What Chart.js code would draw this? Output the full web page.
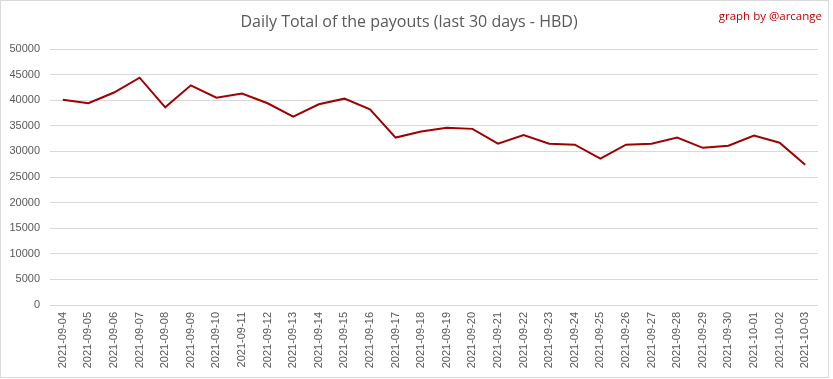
<!DOCTYPE html>
<html>
<head>
<meta charset="utf-8">
<script src="https://cdn.jsdelivr.net/npm/chart.js@4"></script>
<style>
  body { margin: 0; background: #fff; }
  #wrap { position: relative; width: 833px; height: 379px; }
  #frame { position: absolute; left: 0; top: 0; width: 829px; height: 378px; box-sizing: border-box; border: 1px solid #d9d9d9; pointer-events: none; }
  #credit { position: absolute; right: 11px; top: 8px; font: 11.5px "Open Sans", sans-serif; color: #c00000; }
</style>
</head>
<body>
<div id="wrap">
  <canvas id="LineChart" width="833" height="379"></canvas>
  <div id="frame"></div>
  <div id="credit">graph by @arcange</div>
</div>
<script>
var days = ['2021-09-04','2021-09-05','2021-09-06','2021-09-07','2021-09-08','2021-09-09','2021-09-10',
    '2021-09-11','2021-09-12','2021-09-13','2021-09-14','2021-09-15','2021-09-16','2021-09-17',
    '2021-09-18','2021-09-19','2021-09-20','2021-09-21','2021-09-22','2021-09-23','2021-09-24',
    '2021-09-25','2021-09-26','2021-09-27','2021-09-28','2021-09-29','2021-09-30','2021-10-01',
    '2021-10-02','2021-10-03'];

var payouts = [40100, 39400, 41500, 44400, 38600, 42900, 40500,
    41300, 39400, 36800, 39200, 40300, 38200, 32700,
    33900, 34600, 34400, 31500, 33200, 31500, 31300,
    28600, 31300, 31500, 32700, 30700, 31100, 33100,
    31700, 27400];

var yMin = 0;
var yMax = 50000;
var yStep = 5000;

var textColor = '#595959';

var data = {
    labels: days,
    datasets: [{
        label: 'HBD',
        borderColor: '#a00000',
        backgroundColor: '#a00000',
        borderWidth: 2,
        pointRadius: 0,
        tension: 0,
        data: payouts,
    }]
};

var config = {
    type: 'line',
    data,
    options: {
        responsive: false,
        animation: false,
        layout: { padding: { left: 0, right: 15, top: 0, bottom: 0 } },
        plugins: {
            legend: { display: false },
            tooltip: { enabled: false },
            title: {
                display: true,
                text: 'Daily Total of the payouts (last 30 days - HBD)',
                color: textColor,
                font: { family: 'Open Sans', size: 16, weight: 'normal', lineHeight: 1.2 },
                padding: { top: 13, bottom: 16.8 },
            },
        },
        scales: {
            x: {
                offset: true,
                grid: { display: false, drawTicks: false },
                border: { display: false },
                ticks: {
                    color: textColor,
                    font: { family: 'Liberation Sans', size: 11 },
                    minRotation: 90,
                    maxRotation: 90,
                    autoSkip: false,
                    padding: 7,
                },
                afterFit: function (scale) { scale.height = 74; },
            },
            y: {
                min: yMin,
                max: yMax,
                grid: { color: '#d9d9d9', drawTicks: false, lineWidth: 1 },
                border: { display: false },
                ticks: {
                    stepSize: yStep,
                    color: textColor,
                    font: { family: 'Liberation Sans', size: 11 },
                    padding: 10,
                    callback: function (value) { return String(value); },
                },
                afterFit: function (scale) { scale.width = 50; },
            },
        },
    },
};

var lineChart = new Chart(
    document.getElementById('LineChart'),
    config,
);
</script>
</body>
</html>
